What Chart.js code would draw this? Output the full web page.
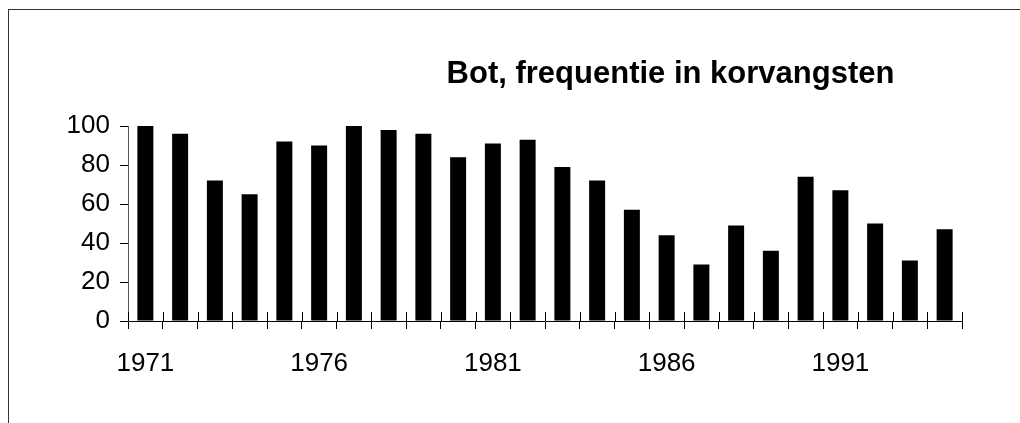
<!DOCTYPE html>
<html>
<head>
<meta charset="utf-8">
<script src="https://cdn.jsdelivr.net/npm/chart.js@4.4.1/dist/chart.umd.min.js"></script>
<style>
    html, body { margin: 0; padding: 0; background: #fff; overflow: hidden; }
    #wrap { position: relative; width: 1020px; height: 423px; }
    #frame {
        position: absolute; left: 8px; top: 9px; width: 1100px; height: 500px;
        border-left: 1px solid #333; border-top: 1px solid #333;
    }
    canvas { position: absolute; left: 0; top: 0; }
</style>
</head>
<body>
<div id="wrap">
    <div id="frame"></div>
    <canvas id="chart" width="1020" height="423"></canvas>
</div>
<script>
const TITLE = 'Bot, frequentie in korvangsten';
const YEARS = [
    1971, 1972, 1973, 1974, 1975, 1976, 1977, 1978, 1979, 1980, 1981, 1982,
    1983, 1984, 1985, 1986, 1987, 1988, 1989, 1990, 1991, 1992, 1993, 1994
];
const FREQUENCY = [
    100, 96, 72, 65, 92, 90, 100, 98, 96, 84, 91, 93,
    79, 72, 57, 44, 29, 49, 36, 74, 67, 50, 31, 47
];
const Y_TICKS = [0, 20, 40, 60, 80, 100];
const LABEL_EVERY = 5;

const FONT = "'Liberation Sans', Arial, sans-serif";

// titel rechts van het midden, zoals in het origineel
const titlePlugin = {
    id: 'titleText',
    afterDraw(chart) {
        const { ctx, chartArea } = chart;
        ctx.save();
        ctx.font = `bold 31px ${FONT}`;
        ctx.fillStyle = '#000';
        ctx.textAlign = 'center';
        ctx.textBaseline = 'alphabetic';
        ctx.fillText(TITLE, chartArea.left + (chartArea.right - chartArea.left) * 0.6505, 83);
        ctx.restore();
    }
};

// streepjes op de x-as steken ook boven de as uit
const crossTicks = {
    id: 'crossTicks',
    afterDatasetsDraw(chart) {
        const { ctx } = chart;
        const x = chart.scales.x;
        const y0 = chart.scales.y.getPixelForValue(0);
        const step = x.getPixelForTick(1) - x.getPixelForTick(0);
        ctx.save();
        ctx.strokeStyle = '#000';
        ctx.lineWidth = 1;
        ctx.beginPath();
        for (let i = 0; i <= YEARS.length; i++) {
            const px = Math.round(x.getPixelForTick(0) - step / 2 + i * step) + 0.5;
            ctx.moveTo(px, y0 - 9);
            ctx.lineTo(px, y0);
        }
        ctx.stroke();
        ctx.restore();
    }
};

new Chart(document.getElementById('chart'), {
    type: 'bar',
    data: {
        labels: YEARS.map(String),
        datasets: [{
            data: FREQUENCY,
            backgroundColor: '#000',
            borderWidth: 0,
            barPercentage: 0.46,
            categoryPercentage: 1
        }]
    },
    options: {
        responsive: false,
        animation: false,
        devicePixelRatio: 1,
        layout: { padding: { top: 126, right: 58, bottom: 0, left: 0 } },
        plugins: {
            legend: { display: false },
            tooltip: { enabled: false },
            title: { display: false }
        },
        scales: {
            x: {
                offset: true,
                afterFit: scale => { scale.height = 102; },
                grid: {
                    offset: true,
                    drawOnChartArea: false,
                    drawTicks: true,
                    tickLength: 8,
                    color: '#000'
                },
                border: { display: true, color: '#000', width: 1 },
                ticks: {
                    autoSkip: false,
                    maxRotation: 0,
                    padding: 19,
                    color: '#000',
                    font: { family: FONT, size: 26 },
                    callback: (value, index) => index % LABEL_EVERY === 0 ? YEARS[index] : ''
                }
            },
            y: {
                min: Y_TICKS[0],
                max: Y_TICKS[Y_TICKS.length - 1],
                afterFit: scale => { scale.width = 128; },
                afterBuildTicks: scale => { scale.ticks = Y_TICKS.map(v => ({ value: v })); },
                grid: {
                    drawOnChartArea: false,
                    drawTicks: true,
                    tickLength: 8,
                    color: '#000'
                },
                border: { display: true, color: '#555', width: 1 },
                ticks: {
                    padding: 10,
                    color: '#000',
                    font: { family: FONT, size: 26 }
                }
            }
        }
    },
    plugins: [titlePlugin, crossTicks]
});
</script>
</body>
</html>
